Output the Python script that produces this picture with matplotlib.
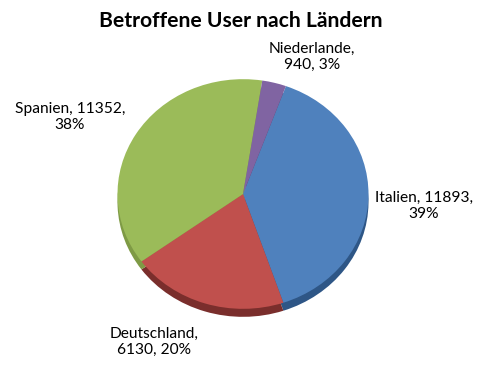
import numpy as np
import matplotlib.pyplot as plt

plt.rcParams['font.family'] = ['Lato', 'DejaVu Sans']

# data (Excel series order, drawn clockwise)
countries = ['Italien', 'Deutschland', 'Spanien', 'Niederlande']
users = [11893, 6130, 11352, 940]
pct = [39, 20, 38, 3]
colors = ['#4F81BD', '#C0504D', '#9BBB59', '#8064A2']
side_colors = ['#2E5686', '#7A2E2C', '#7E9A45', '#54416E']

# label text layout and positions in pixels (x, y from top)
label_fmt = ['{n}, {v},\n{p}%', '{n},\n{v}, {p}%', '{n}, {v},\n{p}%', '{n},\n{v}, {p}%']
label_pos = [(424, 206), (154, 342), (70, 117), (312, 57)]

W, H = 494, 365
fig = plt.figure(figsize=(W / 100, H / 100), dpi=100)
ax = fig.add_axes([0, 0, 1, 1])

s = 0.915          # vertical squash of the tilted pie
r = 125.5
cx, cy = 243, (H - 194) / s
depth = 8 / s

wp = dict(linewidth=0)
ax.pie(users, colors=side_colors, startangle=70, counterclock=False,
       center=(cx, cy - depth), radius=r, wedgeprops=wp)
ax.pie(users, colors=colors, startangle=70, counterclock=False,
       center=(cx, cy), radius=r, wedgeprops=wp)
ax.set_xlim(0, W)
ax.set_ylim(0, H / s)
ax.set_aspect('auto')
ax.axis('off')

for name, v, p, fmt, (x, y) in zip(countries, users, pct, label_fmt, label_pos):
    fig.text(x / W, 1 - y / H, fmt.format(n=name, v=v, p=p), ha='center', va='center',
             multialignment='center', fontsize=11.2, linespacing=1.22, color='#000000')

fig.text(241 / W, 1 - 21 / H, 'Betroffene User nach Ländern', ha='center', va='center',
         fontsize=15.2, fontweight='bold')

fig.savefig('out.png', dpi=100)
